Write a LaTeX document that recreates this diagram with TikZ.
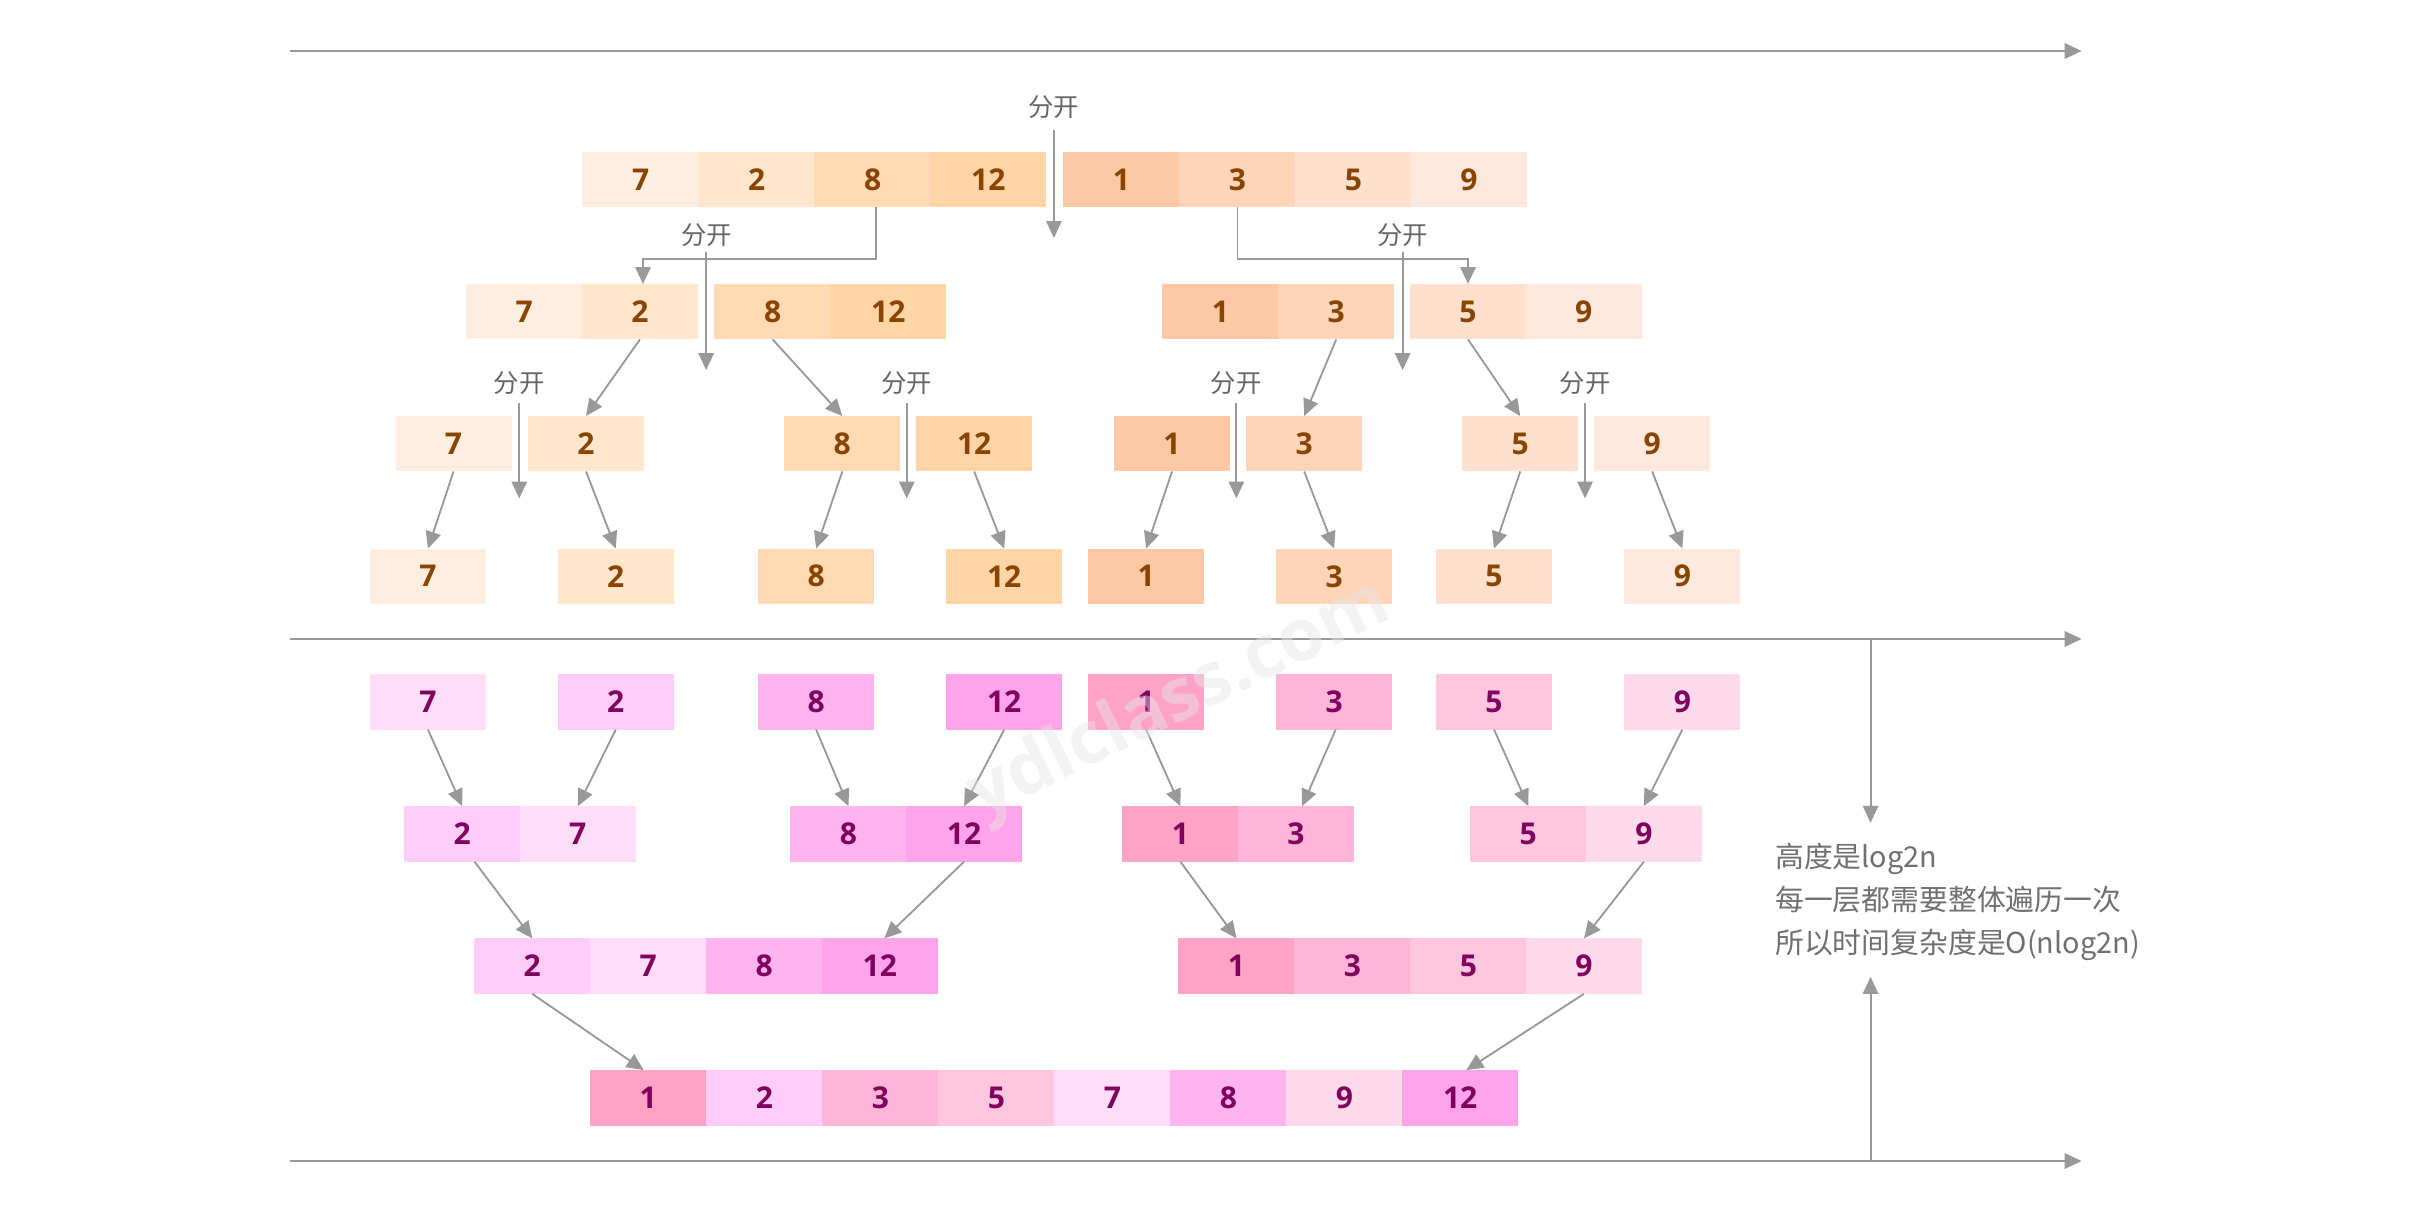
\documentclass[tikz,border=0pt]{standalone}
\usepackage{fontspec}
\setmainfont{Open Sans}
\newfontfamily\cjk{Noto Sans CJK SC}
\usetikzlibrary{arrows.meta,calc}
\definecolor{oA}{HTML}{FFEEDF}% 7
\definecolor{oB}{HTML}{FFE6CC}% 2
\definecolor{oC}{HTML}{FFDAB3}% 8
\definecolor{oD}{HTML}{FFD4A6}% 12
\definecolor{oE}{HTML}{FDC8A4}% 1
\definecolor{oF}{HTML}{FFD5BA}% 3
\definecolor{oG}{HTML}{FFE0CC}% 5
\definecolor{oH}{HTML}{FFE9DE}% 9
\definecolor{pA}{HTML}{FFDDF6}% 7
\definecolor{pB}{HTML}{FFCDF7}% 2
\definecolor{pC}{HTML}{FFB3EF}% 8
\definecolor{pD}{HTML}{FFA3EB}% 12
\definecolor{pE}{HTML}{FFA3C6}% 1
\definecolor{pF}{HTML}{FFB5D8}% 3
\definecolor{pG}{HTML}{FFC6DE}% 5
\definecolor{pH}{HTML}{FFDAEB}% 9
\definecolor{otext}{HTML}{884400}
\definecolor{ptext}{HTML}{800060}
\definecolor{lgray}{HTML}{999999}
\definecolor{tgray}{HTML}{666666}
\definecolor{bgray}{HTML}{707070}
\definecolor{wmark}{HTML}{E6E6E6}
\begin{document}
\begin{tikzpicture}[x=1pt,y=-1pt,
  cell/.style={rectangle, minimum width=75.7pt, minimum height=36pt, inner sep=0pt, outer sep=0pt, anchor=west,
    font=\fontsize{19.5}{20}\selectfont\bfseries},
  oc/.style={cell, text=otext},
  pc/.style={cell, text=ptext},
  conn/.style={draw=lgray, line width=1.2pt, -{Triangle[length=11pt,width=10pt]}, shorten <=0pt},
  axis/.style={draw=lgray, line width=1.3pt, -{Triangle[length=11pt,width=10pt]}},
  lbl/.style={font=\cjk\fontsize{16.5}{18}\selectfont, text=tgray, inner sep=0pt},
  note/.style={font=\cjk\fontsize{18.7}{20}\selectfont, text=bgray, inner sep=0pt, anchor=base west}]
\useasboundingbox (0,0) rectangle (1568,787);
\fill[white] (0,0) rectangle (1568,787);

% axes
\coordinate (ax1s) at (188.2,33.1); \coordinate (ax1e) at (1351,33.1);
\coordinate (ax2s) at (188.2,414.7); \coordinate (ax2e) at (1351,414.7);
\coordinate (ax3s) at (188.2,753.5); \coordinate (ax3e) at (1351,753.5);
\draw[axis] (ax1s) -- (ax1e);
\draw[axis] (ax2s) -- (ax2e);
\draw[axis] (ax3s) -- (ax3e);

% ---------- row 1 ----------
\node[oc, fill=oA] (r1n7)  at (378,116.5) {7};
\node[oc, fill=oB] (r1n2)  at (453.25,116.5) {2};
\node[oc, fill=oC] (r1n8)  at (528.5,116.5) {8};
\node[oc, fill=oD, minimum width=75.3pt] (r1n12) at (603.75,116.5) {12};
\node[oc, fill=oE] (r1n1)  at (690,116.5) {1};
\node[oc, fill=oF] (r1n3)  at (765.25,116.5) {3};
\node[oc, fill=oG] (r1n5)  at (840.5,116.5) {5};
\node[oc, fill=oH, minimum width=75.3pt] (r1n9)  at (915.75,116.5) {9};

% ---------- row 2 ----------
\node[oc, fill=oA] (r2n7)  at (302.4,202.3) {7};
\node[oc, fill=oB, minimum width=75.3pt] (r2n2)  at (377.65,202.3) {2};
\node[oc, fill=oC] (r2n8)  at (463.6,202.3) {8};
\node[oc, fill=oD, minimum width=75.3pt] (r2n12) at (538.85,202.3) {12};
\node[oc, fill=oE] (r2n1)  at (754.3,202.3) {1};
\node[oc, fill=oF, minimum width=75.3pt] (r2n3)  at (829.55,202.3) {3};
\node[oc, fill=oG] (r2n5)  at (914.9,202.3) {5};
\node[oc, fill=oH, minimum width=75.3pt] (r2n9)  at (990.15,202.3) {9};

% ---------- row 3 ----------
\node[oc, fill=oA, minimum width=75.3pt] (r3n7)  at (256.7,288) {7};
\node[oc, fill=oB, minimum width=75.3pt] (r3n2)  at (342.7,288) {2};
\node[oc, fill=oC, minimum width=75.3pt] (r3n8)  at (509,288) {8};
\node[oc, fill=oD, minimum width=75.3pt] (r3n12) at (594.6,288) {12};
\node[oc, fill=oE, minimum width=75.3pt] (r3n1)  at (723,288) {1};
\node[oc, fill=oF, minimum width=75.3pt] (r3n3)  at (808.8,288) {3};
\node[oc, fill=oG, minimum width=75.3pt] (r3n5)  at (949,288) {5};
\node[oc, fill=oH, minimum width=75.3pt] (r3n9)  at (1034.6,288) {9};

% ---------- row 4 ----------
\node[oc, fill=oA, minimum width=75.3pt] (r4n7)  at (240.1,374) {7};
\node[oc, fill=oB, minimum width=75.3pt] (r4n2)  at (362,374) {2};
\node[oc, fill=oC, minimum width=75.3pt] (r4n8)  at (492,374) {8};
\node[oc, fill=oD, minimum width=75.3pt] (r4n12) at (614.1,374) {12};
\node[oc, fill=oE, minimum width=75.3pt] (r4n1)  at (706.2,374) {1};
\node[oc, fill=oF, minimum width=75.3pt] (r4n3)  at (828.2,374) {3};
\node[oc, fill=oG, minimum width=75.3pt] (r4n5)  at (932,374) {5};
\node[oc, fill=oH, minimum width=75.3pt] (r4n9)  at (1054.2,374) {9};

% ---------- row 5 ----------
\node[pc, fill=pA, minimum width=75.3pt] (r5n7)  at (240.1,455.5) {7};
\node[pc, fill=pB, minimum width=75.3pt] (r5n2)  at (362,455.5) {2};
\node[pc, fill=pC, minimum width=75.3pt] (r5n8)  at (492,455.5) {8};
\node[pc, fill=pD, minimum width=75.3pt] (r5n12) at (614.1,455.5) {12};
\node[pc, fill=pE, minimum width=75.3pt] (r5n1)  at (706.2,455.5) {1};
\node[pc, fill=pF, minimum width=75.3pt] (r5n3)  at (828.2,455.5) {3};
\node[pc, fill=pG, minimum width=75.3pt] (r5n5)  at (932,455.5) {5};
\node[pc, fill=pH, minimum width=75.3pt] (r5n9)  at (1054.2,455.5) {9};

% ---------- row 6 ----------
\node[pc, fill=pB] (r6n2)  at (262.1,541.2) {2};
\node[pc, fill=pA, minimum width=75.3pt] (r6n7)  at (337.35,541.2) {7};
\node[pc, fill=pC] (r6n8)  at (512.8,541.2) {8};
\node[pc, fill=pD, minimum width=75.3pt] (r6n12) at (588.05,541.2) {12};
\node[pc, fill=pE] (r6n1)  at (728.2,541.2) {1};
\node[pc, fill=pF, minimum width=75.3pt] (r6n3)  at (803.45,541.2) {3};
\node[pc, fill=pG] (r6n5)  at (954,541.2) {5};
\node[pc, fill=pH, minimum width=75.3pt] (r6n9)  at (1029.25,541.2) {9};

% ---------- row 7 ----------
\node[pc, fill=pB] (r7n2)  at (307.6,627) {2};
\node[pc, fill=pA] (r7n7)  at (382.85,627) {7};
\node[pc, fill=pC] (r7n8)  at (458.1,627) {8};
\node[pc, fill=pD, minimum width=75.3pt] (r7n12) at (533.35,627) {12};
\node[pc, fill=pE] (r7n1)  at (764.6,627) {1};
\node[pc, fill=pF] (r7n3)  at (839.85,627) {3};
\node[pc, fill=pG] (r7n5)  at (915.1,627) {5};
\node[pc, fill=pH, minimum width=75.3pt] (r7n9)  at (990.35,627) {9};

% ---------- row 8 ----------
\node[pc, fill=pE] (r8n1)  at (382.9,712.5) {1};
\node[pc, fill=pB] (r8n2)  at (458.2,712.5) {2};
\node[pc, fill=pF] (r8n3)  at (533.5,712.5) {3};
\node[pc, fill=pG] (r8n5)  at (608.8,712.5) {5};
\node[pc, fill=pA] (r8n7)  at (684.1,712.5) {7};
\node[pc, fill=pC] (r8n8)  at (759.4,712.5) {8};
\node[pc, fill=pH] (r8n9)  at (834.7,712.5) {9};
\node[pc, fill=pD, minimum width=75.3pt] (r8n12) at (910,712.5) {12};

% ---------- split labels and arrows ----------
\node[lbl] (s0) at (684,69.6) {分开};
\coordinate (s0s) at (684,84.3); \coordinate (s0e) at (684,154.5);
\draw[conn] (s0s) -- (s0e);

\node[lbl] (s1) at (458.6,152.5) {分开};
\coordinate (s1s) at (458.3,163.8); \coordinate (s1e) at (458.3,240.2);
\draw[conn] (s1s) -- (s1e);

\node[lbl] (s2) at (910.3,152.5) {分开};
\coordinate (s2s) at (910.3,163.8); \coordinate (s2e) at (910.3,240.2);
\draw[conn] (s2s) -- (s2e);

\node[lbl] (s3) at (337,248.9) {分开};
\coordinate (s3s) at (337,261.4); \coordinate (s3e) at (337,323.5);
\draw[conn] (s3s) -- (s3e);

\node[lbl] (s4) at (588.5,248.9) {分开};
\coordinate (s4s) at (588.5,261.4); \coordinate (s4e) at (588.5,323.5);
\draw[conn] (s4s) -- (s4e);

\node[lbl] (s5) at (802.4,248.9) {分开};
\coordinate (s5s) at (802.4,261.4); \coordinate (s5e) at (802.4,323.5);
\draw[conn] (s5s) -- (s5e);

\node[lbl] (s6) at (1028.7,248.9) {分开};
\coordinate (s6s) at (1028.7,261.4); \coordinate (s6e) at (1028.7,323.5);
\draw[conn] (s6s) -- (s6e);

% ---------- split connectors ----------
\draw[conn] ([xshift=2pt]r1n8.south) -- ++(0,33.8) -| ([xshift=2pt]r2n2.north);
\draw[conn] (r1n3.south) -- ++(0,33.8) -| (r2n5.north);

\draw[conn] (r2n2.south) -- (r3n2.north);
\draw[conn] (r2n8.south) -- (r3n8.north);
\draw[conn] (r2n3.south) -- (r3n3.north);
\draw[conn] (r2n5.south) -- (r3n5.north);

\draw[conn] (r3n7.south) -- (r4n7.north);
\draw[conn] (r3n2.south) -- (r4n2.north);
\draw[conn] (r3n8.south) -- (r4n8.north);
\draw[conn] (r3n12.south) -- (r4n12.north);
\draw[conn] (r3n1.south) -- (r4n1.north);
\draw[conn] (r3n3.south) -- (r4n3.north);
\draw[conn] (r3n5.south) -- (r4n5.north);
\draw[conn] (r3n9.south) -- (r4n9.north);

% ---------- merge connectors ----------
\draw[conn] (r5n7.south) -- (r6n2.north);
\draw[conn] (r5n2.south) -- (r6n7.north);
\draw[conn] (r5n8.south) -- (r6n8.north);
\draw[conn] (r5n12.south) -- (r6n12.north);
\draw[conn] (r5n1.south) -- (r6n1.north);
\draw[conn] ([xshift=1pt]r5n3.south) -- ([xshift=4pt]r6n3.north);
\draw[conn] (r5n5.south) -- (r6n5.north);
\draw[conn] (r5n9.south) -- (r6n9.north);

\draw[conn] ([xshift=8pt]r6n2.south) -- (r7n2.north);
\draw[conn] (r6n12.south) -- ([xshift=3pt]r7n12.north);
\draw[conn] (r6n1.south) -- (r7n1.north);
\draw[conn] (r6n9.south) -- (r7n9.north);

\draw[conn] (r7n2.south) -- ([xshift=-3pt]r8n1.north);
\draw[conn] (r7n9.south) -- ([xshift=4pt]r8n12.north);

% ---------- height arrows and note ----------
\coordinate (h1s) at (1214,414.7); \coordinate (h1e) at (1214,534);
\draw[conn] (h1s) -- (h1e);
\coordinate (h2s) at (1214,753.5); \coordinate (h2e) at (1214,634);
\draw[conn] (h2s) -- (h2e);

\node[note] (t1) at (1152,563) {高度是log2n};
\node[note] (t2) at (1152,590.8) {每一层都需要整体遍历一次};
\node[note] (t3) at (1152,618.5) {所以时间复杂度是O(nlog2n)};

% ---------- watermark ----------
\node[rotate=26, text=wmark, opacity=0.45, font=\fontsize{47}{47}\selectfont\bfseries, inner sep=0pt] (wm) at (766,455) {ydlclass.com};
\end{tikzpicture}
\end{document}
